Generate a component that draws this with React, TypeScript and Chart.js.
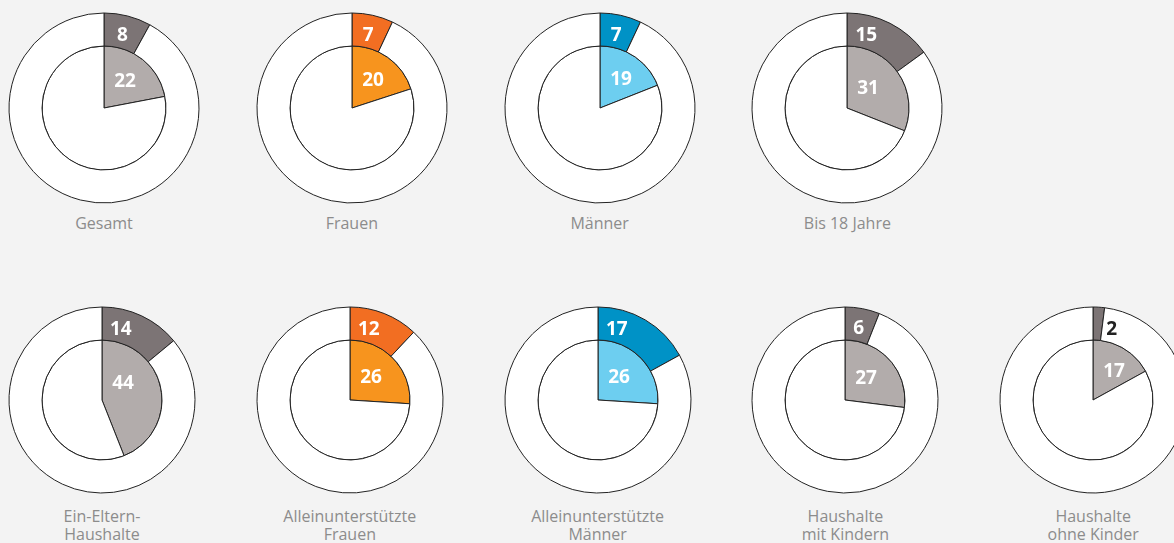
import React, { useEffect, useRef } from "react";
import { Chart, registerables } from "chart.js";

Chart.register(...registerables);

const categories = [
  ["Gesamt"],
  ["Frauen"],
  ["Männer"],
  ["Bis 18 Jahre"],
  ["Ein-Eltern-", "Haushalte"],
  ["Alleinunterstützte", "Frauen"],
  ["Alleinunterstützte", "Männer"],
  ["Haushalte", "mit Kindern"],
  ["Haushalte", "ohne Kinder"],
];
const outerValues = [8, 7, 7, 15, 14, 12, 17, 6, 2];
const innerValues = [22, 20, 19, 31, 44, 26, 26, 27, 17];
const groups = ["grey", "orange", "blue", "grey", "grey", "orange", "blue", "grey", "grey"];

const palette: Record<string, { outer: string; inner: string }> = {
  grey: { outer: "#7c7475", inner: "#b2acab" },
  orange: { outer: "#f26e22", inner: "#f7941e" },
  blue: { outer: "#0092c6", inner: "#6dcef0" },
};

// layout
const ROWS = [
  { count: 4, x0: 104, cy: 108, R: 95, r: 62, labelTop: 214 },
  { count: 5, x0: 102, cy: 400, R: 93, r: 60, labelTop: 507 },
];
const STEP = 247.8;
const CANVAS = 200;

const labelPlugin = {
  id: "valueLabels",
  afterDraw(chart: any, _args: any, opts: any) {
    const ctx = chart.ctx;
    const outerArc = chart.getDatasetMeta(0).data[0];
    const innerArc = chart.getDatasetMeta(1).data[0];
    if (!outerArc || !innerArc) return;
    const cx = outerArc.x;
    const cy = outerArc.y;
    ctx.save();
    ctx.font = "bold 19px 'Open Sans', 'Noto Sans', sans-serif";
    ctx.textAlign = "center";
    ctx.textBaseline = "middle";
    // outer label
    const oSpan = outerArc.endAngle - outerArc.startAngle;
    const small = oSpan < (5 / 100) * Math.PI * 2;
    const lim = (15 * Math.PI) / 180;
    const oTheta = small ? lim : Math.min(oSpan / 2, lim);
    const oD = (outerArc.innerRadius + outerArc.outerRadius) / 2 - 4;
    ctx.fillStyle = small ? "#222222" : "#ffffff";
    ctx.fillText(String(opts.outer), cx + oD * Math.sin(oTheta), cy - oD * Math.cos(oTheta));
    // inner label
    const iSpan = innerArc.endAngle - innerArc.startAngle;
    const iTheta = Math.min(iSpan / 2, Math.PI / 3);
    const iD = innerArc.outerRadius * 0.55;
    ctx.fillStyle = "#ffffff";
    ctx.fillText(String(opts.inner), cx + 21, cy - iD * Math.cos(iTheta));
    ctx.restore();
  },
};

function Pie({ index, R, r }: { index: number; R: number; r: number }) {
  const ref = useRef<HTMLCanvasElement | null>(null);
  useEffect(() => {
    if (!ref.current) return;
    const col = palette[groups[index]];
    const chart = new Chart(ref.current, {
      type: "doughnut",
      data: {
        labels: ["Anteil", "Rest"],
        datasets: [
          {
            data: [outerValues[index], 100 - outerValues[index]],
            backgroundColor: [col.outer, "#ffffff"],
            borderColor: "#222222",
            borderWidth: 1,
            weight: R - r,
          } as any,
          {
            data: [innerValues[index], 100 - innerValues[index]],
            backgroundColor: [col.inner, "#ffffff"],
            borderColor: "#222222",
            borderWidth: 1,
            weight: r,
          } as any,
        ],
      },
      options: {
        animation: false,
        responsive: false,
        cutout: 0,
        radius: R,
        layout: { padding: 0 },
        events: [],
        plugins: {
          legend: { display: false },
          tooltip: { enabled: false },
          valueLabels: { outer: outerValues[index], inner: innerValues[index] },
        } as any,
      },
      plugins: [labelPlugin],
    });
    return () => chart.destroy();
  }, [index, R, r]);
  return <canvas ref={ref} width={CANVAS} height={CANVAS} style={{ width: CANVAS, height: CANVAS, display: "block" }} />;
}

export default function App() {
  useEffect(() => {
    document.body.style.margin = "0";
  }, []);
  const panels: React.ReactNode[] = [];
  let idx = 0;
  ROWS.forEach((row) => {
    for (let i = 0; i < row.count; i++) {
      const k = idx++;
      const cx = row.x0 + i * STEP;
      panels.push(
        <div key={"c" + k} style={{ position: "absolute", left: cx - CANVAS / 2, top: row.cy - CANVAS / 2 }}>
          <Pie index={k} R={row.R} r={row.r} />
        </div>
      );
      panels.push(
        <div
          key={"l" + k}
          style={{
            position: "absolute",
            left: cx - 100,
            width: 200,
            top: row.labelTop,
            textAlign: "center",
            fontFamily: "'Open Sans', 'Noto Sans', sans-serif",
            fontSize: 16,
            lineHeight: "18px",
            color: "#8c8c8c",
            whiteSpace: "nowrap",
          }}
        >
          {categories[k].map((t, j) => (
            <div key={j}>{t}</div>
          ))}
        </div>
      );
    }
  });
  return (
    <div
      style={{
        position: "absolute",
        left: 0,
        top: 0,
        width: 1174,
        height: 543,
        overflow: "hidden",
        background: "#f3f3f3",
      }}
    >
      {panels}
    </div>
  );
}
